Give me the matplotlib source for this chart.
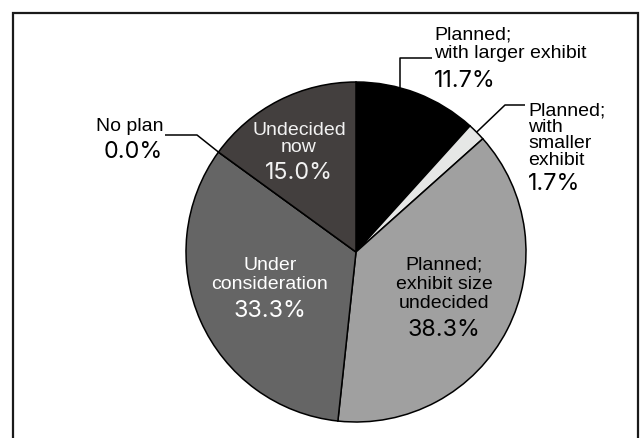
import matplotlib.pyplot as plt
from matplotlib.font_manager import FontProperties
import numpy as np

# slices in drawing order, clockwise from 12 o'clock
labels = ["Planned;\nwith larger exhibit",
          "Planned;\nwith\nsmaller\nexhibit",
          "Planned;\nexhibit size\nundecided",
          "Under\nconsideration",
          "No plan",
          "Undecided\nnow"]
shares = [11.7, 1.7, 38.3, 33.3, 0.0, 15.0]
colors = ["#000000", "#e6e7e6", "#a0a0a0", "#656565", "#ffffff", "#433f3e"]
text_colors = ["black", "black", "black", "white", "black", "#f2f2f2"]

W, H = 641, 438
fig = plt.figure(figsize=(W / 100, H / 100), dpi=100)
ax = fig.add_axes([0, 0, 1, 1])

cx, cy, r = 356, H - 252, 170
wedges, _ = ax.pie(shares, colors=colors, startangle=90, counterclock=False,
                   center=(cx, cy), radius=r, frame=True,
                   wedgeprops=dict(edgecolor="black", linewidth=1.1))
ax.set_xlim(0, W)
ax.set_ylim(0, H)
ax.axis("off")

label_font = dict(family="Liberation Sans", fontsize=14)
pct_font = dict(family="Inter", fontsize=16.8)

# metrics of "lp", which matplotlib uses for the line pitch
rend = fig.canvas.get_renderer()
_, lp_h, lp_d = rend.get_text_width_height_descent(
    "lp", FontProperties(family=label_font["family"], size=label_font["fontsize"]), False)
lp_a = lp_h - lp_d


def edge_point(w, frac):
    a = np.radians(w.theta1 + frac * (w.theta2 - w.theta1))
    return cx + r * np.cos(a), cy + r * np.sin(a)


# (x, first baseline, line step, pct baseline, ha) in pixels from top-left
spots = [(434, 40, 18, 87, "left"),
         (528, 115, 16.7, 190, "left"),
         (444, 270, 19, 336, "center"),
         (270, 270, 19, 317, "center"),
         (163, 131, 18, 158, "right"),
         (299, 135, 17, 179, "center")]

for lab, v, col, (x, b0, step, pb, ha) in zip(labels, shares, text_colors, spots):
    ls = (step - lp_d) / lp_a
    ax.text(x, H - (b0 - lp_a), lab, ha=ha, va="top", ma=ha, color=col,
            linespacing=ls, **label_font)
    ax.text(x, H - pb, f"{v:.1f}%", ha=ha, va="baseline", color=col,
            **pct_font)

# leader lines
lk = dict(color="black", lw=1.1, solid_capstyle="butt")
x0, y0 = edge_point(wedges[0], 0.64)
ax.plot([x0, x0, 432], [y0, H - 58, H - 58], **lk)
x1, y1 = edge_point(wedges[1], 0.5)
ax.plot([x1, 505, 525], [y1, H - 105, H - 105], **lk)
x4, y4 = edge_point(wedges[4], 0.5)
ax.plot([x4, 197, 165], [y4, H - 135, H - 135], **lk)

# outer frame (open at the bottom)
fk = dict(color="#1a1a1a", lw=1.6, solid_joinstyle="miter")
ax.plot([12.5, 12.5, 637.5, 637.5], [0, H - 12.5, H - 12.5, 0], **fk)

fig.savefig("out.png", dpi=100)
